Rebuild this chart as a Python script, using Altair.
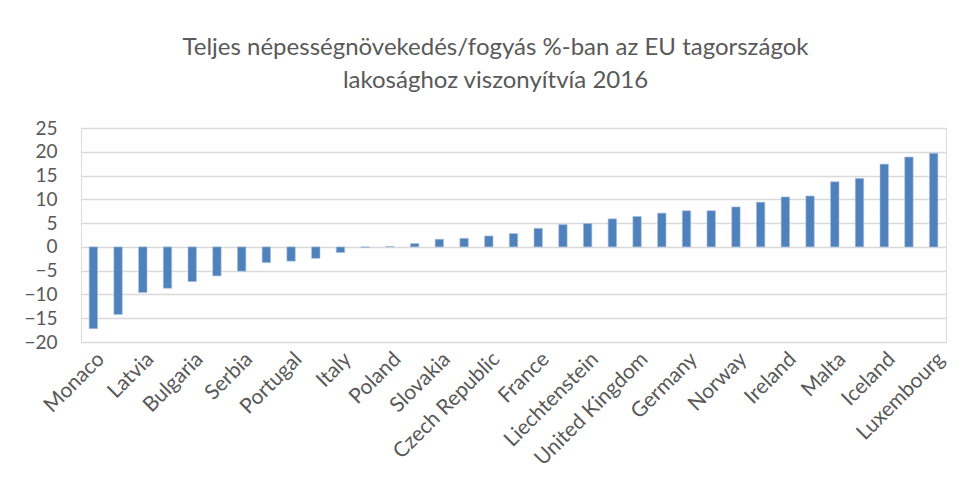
import altair as alt
import pandas as pd

countries = [
    "Monaco", "Lithuania", "Latvia", "Croatia", "Bulgaria", "Romania", "Serbia",
    "Greece", "Portugal", "Hungary", "Italy", "Estonia", "Poland", "Finland",
    "Slovakia", "Spain", "Czech Republic", "Slovenia", "France", "Netherlands",
    "Liechtenstein", "Denmark", "United Kingdom", "Belgium", "Germany", "Austria",
    "Norway", "Cyprus", "Ireland", "Sweden", "Malta", "Switzerland", "Iceland",
    "Andorra", "Luxembourg",
]
values = [
    -17.2, -14.2, -9.6, -8.7, -7.3, -6.1, -5.1,
    -3.3, -3.0, -2.4, -1.2, -0.1, 0.1, 0.7,
    1.6, 1.8, 2.3, 2.8, 3.9, 4.7,
    4.9, 5.9, 6.4, 7.1, 7.6, 7.6,
    8.4, 9.4, 10.5, 10.7, 13.7, 14.4, 17.4,
    18.9, 19.7,
]
shown_labels = countries[::2]
y_ticks = [-20, -15, -10, -5, 0, 5, 10, 15, 20, 25]
title_lines = [
    "Teljes népességnövekedés/fogyás %-ban az EU tagországok",
    "lakosághoz viszonyítvía 2016",
]

df = pd.DataFrame({"country": countries, "value": values})

FONT = "Lato"
TEXT = "#595959"

chart = (
    alt.Chart(df)
    .mark_bar(color="#4f81bd", stroke="#a7c0de", strokeWidth=0.6)
    .encode(
        x=alt.X(
            "country:N",
            sort=countries,
            title=None,
            scale=alt.Scale(paddingInner=0.66, paddingOuter=0.33),
            axis=alt.Axis(
                values=shown_labels,
                labelAngle=-45,
                labelFontSize=21,
                labelColor=TEXT,
                labelFont=FONT,
                labelPadding=6,
                ticks=False,
                domain=False,
                grid=False,
            ),
        ),
        y=alt.Y(
            "value:Q",
            title=None,
            scale=alt.Scale(domain=[-20, 25], nice=False),
            axis=alt.Axis(
                values=y_ticks,
                labelFontSize=19,
                labelColor=TEXT,
                labelFont=FONT,
                labelPadding=24,
                ticks=False,
                tickSize=0,
                domain=False,
                grid=True,
                gridColor="#d9d9d9",
                gridWidth=1.3,
            ),
        ),
        tooltip=["country", "value"],
    )
    .properties(
        width=865,
        height=214,
        title=alt.TitleParams(
            text=title_lines,
            font=FONT,
            fontSize=24,
            fontWeight="normal",
            color=TEXT,
            lineHeight=33,
            anchor="middle",
            dx=-18,
            offset=26,
        ),
        padding={"left": 15, "top": 28, "right": 10, "bottom": 5},
    )
    .configure_view(stroke=None)
    .configure(background="white")
)

chart.save("out.html", embed_options={"renderer": "svg", "actions": False})
